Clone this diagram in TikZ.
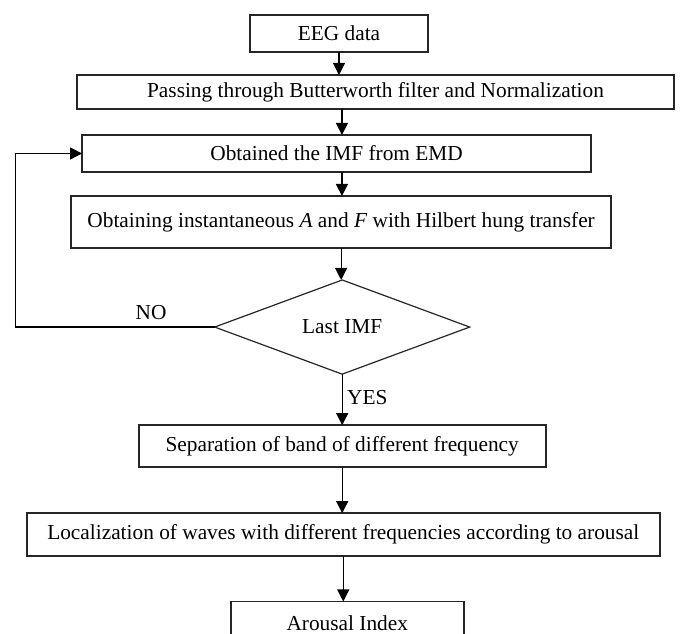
\documentclass[tikz,border=0pt]{standalone}
\usepackage{fontspec}
\setmainfont{Liberation Serif}
\usetikzlibrary{arrows.meta,positioning,shapes.geometric}

\begin{document}
\begin{tikzpicture}[x=1pt, y=1pt,
    box/.style={draw=black!85, line width=1.2pt, rectangle, align=center, inner sep=0pt, outer sep=0pt, minimum height=27.75pt, font=\fontsize{16}{18}\selectfont},
    decision/.style={draw=black!85, line width=0.9pt, diamond, inner sep=0pt, outer sep=0pt, minimum width=191.25pt, minimum height=65pt, font=\fontsize{16}{18}\selectfont},
    lbl/.style={font=\fontsize{16}{18}\selectfont},
    arr/.style={-{Triangle[length=9pt, width=9pt]}, line width=0.9pt}]
    \useasboundingbox (0,0) rectangle (512.25,-474.75);
    \node[box, minimum width=133.5pt] (eeg) at (254.25,-25.1) {EEG data};
    \node[box, minimum width=447.75pt, minimum height=25.5pt] (filter) [below=17.25pt of eeg, xshift=27.4pt] {Passing through Butterworth filter and Normalization};
    \node[box, minimum width=381.75pt] (imf) [below=19.5pt of filter, xshift=-29.2pt] {Obtained the IMF from EMD};
    \node[box, minimum width=405pt, minimum height=39pt] (inst) [below=18pt of imf, xshift=3.4pt] {Obtaining instantaneous \textit{A} and \textit{F} with Hilbert hung transfer};
    \node[decision] (last) [below=24pt of inst, xshift=0.8pt] {Last IMF};
    \node[box, minimum width=305.25pt, minimum height=31.5pt] (band) [below=38.25pt of last] {Separation of band of different frequency};
    \node[box, minimum width=474.75pt, minimum height=32.25pt] (waves) [below=34.5pt of band, xshift=0.8pt] {Localization of waves with different frequencies according to arousal};
    \node[box, minimum width=174.75pt, minimum height=32.25pt] (index) [below=34pt of waves, xshift=3pt] {Arousal Index};
    \coordinate (back) at ([xshift=-49.7pt]imf.west);
    \draw[arr] (eeg.south) -- (eeg.south |- filter.north);
    \draw[arr] ([xshift=4pt]imf.north |- filter.south) -- ([xshift=4pt]imf.north);
    \draw[arr] ([xshift=4pt]imf.south) -- ([xshift=4pt]imf.south |- inst.north);
    \draw[arr] (inst.south) -- (inst.south |- last.north);
    \draw[arr] (last.south) -- node[lbl, right, pos=0.45] {YES} (last.south |- band.north);
    \draw[arr] (band.south) -- (band.south |- waves.north);
    \draw[arr] (waves.south) -- (waves.south |- index.north);
    \draw[arr] (last.west) -| node[lbl, above=2pt, pos=0.16] {NO} (back) -- (imf.west);
\end{tikzpicture}
\end{document}
